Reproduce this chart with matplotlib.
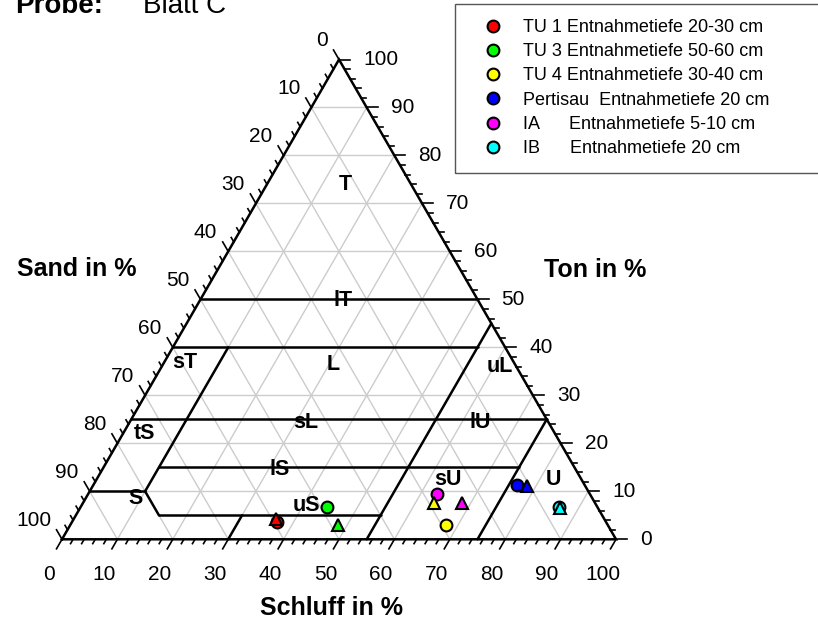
import numpy as np
import matplotlib
matplotlib.use('Agg')
import matplotlib.pyplot as plt
from matplotlib.lines import Line2D
from matplotlib.patches import Rectangle

plt.rcParams['font.family'] = ['Liberation Sans', 'DejaVu Sans']

# Proben (Legende) und Farben
proben = ['TU 1 Entnahmetiefe 20-30 cm',
          'TU 3 Entnahmetiefe 50-60 cm',
          'TU 4 Entnahmetiefe 30-40 cm',
          'Pertisau  Entnahmetiefe 20 cm',
          'IA      Entnahmetiefe 5-10 cm',
          'IB      Entnahmetiefe 20 cm']
farben = ['#ff0000', '#00ff00', '#ffff00', '#0000ff', '#ff00ff', '#00ffff']

# Kreise: Schluff / Ton in % (Sand = Rest)
kreis_schluff = [37.0, 44.5, 67.9, 76.4, 63.0, 86.4]
kreis_ton = [3.6, 6.8, 3.0, 11.3, 9.4, 6.7]
# Dreiecke: Schluff / Ton in %
dreieck_schluff = [36.5, 48.3, 63.4, 78.4, 68.4, 86.6]
dreieck_ton = [4.2, 3.0, 7.5, 11.2, 7.5, 6.5]

# Bodenarten (Beschriftung), Lage als Schluff / Ton in %
klassen = ['T', 'lT', 'L', 'sL', 'sT', 'tS', 'S', 'lS', 'uS', 'sU', 'U', 'lU', 'uL']
klassen_schluff = [14.1, 25.8, 30.7, 31.9, 3.8, 3.8, 8.9, 32.1, 40.6, 63.5, 82.6, 63.3, 61.1]
klassen_ton = [74.0, 49.7, 36.4, 24.3, 36.8, 22.0, 8.6, 14.5, 7.0, 12.4, 12.4, 24.3, 36.0]

# Grenzlinien der Bodenarten: (Schluff, Ton) -> (Schluff, Ton)
grenzen = [((0, 50), (50, 50)),
           ((0, 40), (55, 40)),
           ((0, 25), (75, 25)),
           ((10, 15), (75, 15)),
           ((15, 5), (55, 5)),
           ((0, 10), (10, 10)),
           ((10, 10), (10, 40)),
           ((10, 10), (15, 5)),
           ((30, 0), (30, 5)),
           ((55, 0), (55, 45)),
           ((75, 0), (75, 25))]

H = np.sqrt(3) / 2
PX = 100 / 554.0  # Dateneinheiten pro Pixel


def xy(schluff, ton):
    schluff = np.asarray(schluff, float)
    ton = np.asarray(ton, float)
    return schluff + ton / 2, ton * H


fig = plt.figure(figsize=(8.18, 6.26), dpi=100)
ax = fig.add_axes([0, 0, 1, 1])
ax.set_xlim(-62 * PX, (818 - 62) * PX)
ax.set_ylim(-(626 - 539.3) * PX, 539.3 * PX)
ax.axis('off')

# Gitter
grau = '#cccccc'
for k in range(10, 100, 10):
    x, y = xy([0, 100 - k], [k, k])
    ax.plot(x, y, color=grau, lw=1, zorder=1)
    x, y = xy([k, k], [0, 100 - k])
    ax.plot(x, y, color=grau, lw=1, zorder=1)
    x, y = xy([100 - k, 0], [0, 100 - k])
    ax.plot(x, y, color=grau, lw=1, zorder=1)

# Grenzen
for a, b in grenzen:
    x, y = xy([a[0], b[0]], [a[1], b[1]])
    ax.plot(x, y, color='k', lw=1.8, zorder=2, solid_capstyle='round')

# Dreieck
x, y = xy([0, 100, 0, 0], [0, 0, 100, 0])
ax.plot(x, y, color='k', lw=1.8, zorder=3, solid_joinstyle='miter')

# Achsenstriche und Beschriftung
dir_unten = np.array([-0.5, -H])
dir_rechts = np.array([1.0, 0.0])
dir_links = np.array([-0.5, H])
for t in range(0, 101, 2):
    lang = 11 * PX if t % 10 == 0 else 5 * PX
    # Schluff (unten)
    p = np.array(xy(t, 0))
    q = p + dir_unten * lang
    ax.plot([p[0], q[0]], [p[1], q[1]], color='k', lw=1.2, zorder=3)
    # Ton (rechts)
    p2 = np.array(xy(100 - t, t))
    q2 = p2 + dir_rechts * lang
    ax.plot([p2[0], q2[0]], [p2[1], q2[1]], color='k', lw=1.2, zorder=3)
    # Sand (links)
    p3 = np.array(xy(0, 100 - t))
    q3 = p3 + dir_links * lang
    ax.plot([p3[0], q3[0]], [p3[1], q3[1]], color='k', lw=1.2, zorder=3)
    if t % 10 == 0:
        ax.text(p[0] - 13.5 * PX, p[1] - 34.7 * PX, str(t), fontsize=15,
                ha='center', va='center')
        ax.text(p2[0] + 24 * PX, p2[1], str(t), fontsize=15,
                ha='left', va='center')
        ax.text(p3[0] - 11 * PX, p3[1] + 19 * PX, str(t), fontsize=15,
                ha='right', va='center')

# Bodenarten
kx, ky = xy(klassen_schluff, klassen_ton)
for name, x0, y0 in zip(klassen, kx, ky):
    ax.text(x0, y0, name, fontsize=15.5, fontweight='bold', ha='center',
            va='center', zorder=4)

# Messpunkte
cx, cy = xy(kreis_schluff, kreis_ton)
dx, dy = xy(dreieck_schluff, dreieck_ton)
for i, c in enumerate(farben):
    ax.plot(cx[i], cy[i], 'o', ms=8.5, mfc=c, mec='k', mew=1.5, zorder=5)
for i, c in enumerate(farben):
    ax.plot(dx[i], dy[i], '^', ms=8, mfc=c, mec='k', mew=1.5, zorder=6)

# Achsentitel
fig.text(77 / 818, 1 - 269 / 626, 'Sand in %', fontsize=18, fontweight='bold',
         ha='center', va='center')
fig.text(595 / 818, 1 - 270 / 626, 'Ton in %', fontsize=18, fontweight='bold',
         ha='center', va='center')
fig.text(332 / 818, 1 - 608 / 626, 'Schluff in %', fontsize=18,
         fontweight='bold', ha='center', va='center')
fig.text(15 / 818, 1 - 13 / 626, 'Probe:', fontsize=20, fontweight='bold',
         ha='left', va='baseline')
fig.text(143 / 818, 1 - 13 / 626, 'Blatt C', fontsize=20,
         ha='left', va='baseline')

# Legende
handles = [Line2D([], [], marker='o', ls='none', mfc=c, mec='k', mew=1.5,
                  ms=8.5) for c in farben]
ax.legend(handles, proben, loc='upper left',
          bbox_to_anchor=(484 / 818, 1 - 19 / 626),
          bbox_transform=fig.transFigure, frameon=False, fontsize=13,
          handlelength=1.0, handletextpad=1.16, labelspacing=0.4,
          borderpad=0, borderaxespad=0)
fig.add_artist(Rectangle((455 / 818, 1 - 173 / 626), (830 - 455) / 818,
                         (173 - 4) / 626, transform=fig.transFigure,
                         fill=False, ec='#555555', lw=1))

fig.savefig('out.png', dpi=100)
